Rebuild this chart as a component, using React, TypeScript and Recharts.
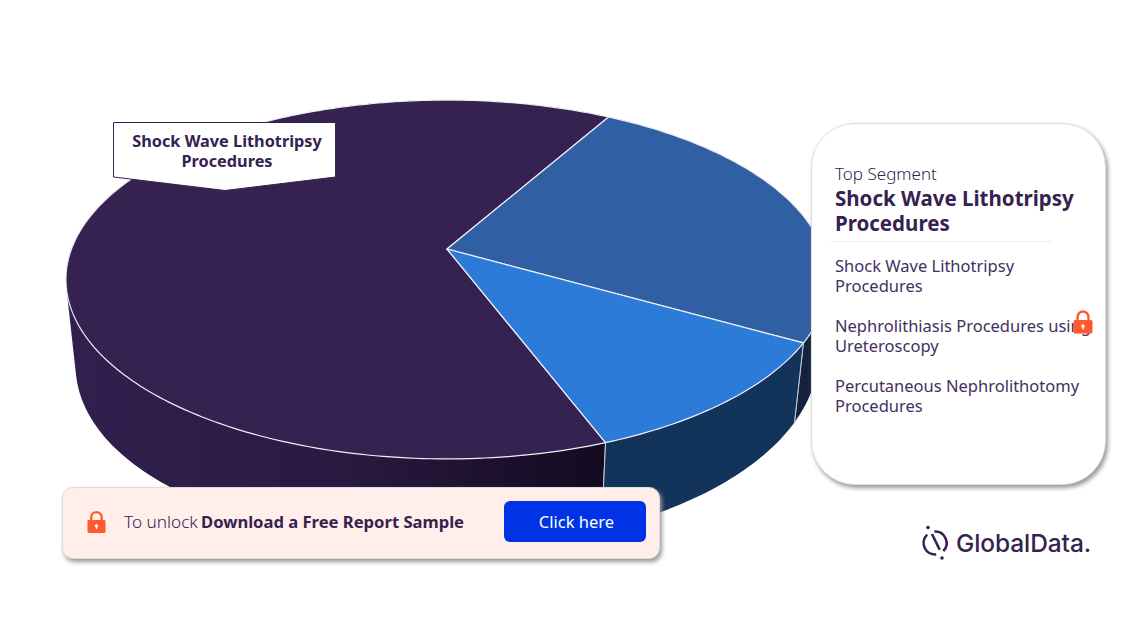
// 3D-look pie of kidney stone procedure segments, with the report card overlays
import React from 'react';
import { PieChart, Pie } from 'recharts';

const categories = [
  'Shock Wave Lithotripsy Procedures',
  'Nephrolithiasis Procedures using Ureteroscopy',
  'Percutaneous Nephrolithotomy Procedures',
];
const shares = [64, 25, 11];

const topColors = ['#352251', '#315fa3', '#2c7bd9'];
const wallColors = ['url(#shockWall)', '#13233f', '#12335a'];

const chartData = categories.map((name, i) => ({ name, value: shares[i] }));

const FONT = '"Noto Sans", sans-serif';
const INK = '#352251';
const BODY_INK = '#42315e';
const LOCK = '#ff5a2c';

// perspective of the disc, the centre of the pie sits above the centre of the ellipse
const TILT = -0.17;
const SQUASH = 0.464;
const BASE_SCALE_X = 0.975;
const BASE_SCALE_Y = 1.078;
const DEPTH = 72;
const LEFT_SAG = 8;

type Pt = { x: number; y: number };

function project(cx: number, cy: number, r: number, deg: number) {
  const a = (deg * Math.PI) / 180;
  const u = Math.cos(a);
  const v = -Math.sin(a);
  const w = 1 + TILT * v;
  return { x: cx + (r * u) / w, y: cy + (r * SQUASH * v) / w };
}

function toBase(cx: number, cy: number, p: Pt) {
  // the lower rim hangs a little further down on the left side
  const sag = p.x < cx ? LEFT_SAG * Math.pow((cx - p.x) / 350, 3) : 0;
  return { x: cx + BASE_SCALE_X * (p.x - cx), y: cy + DEPTH + BASE_SCALE_Y * (p.y - cy) + sag };
}

function rim(props: any) {
  const { cx, cy, outerRadius, startAngle, endAngle } = props;
  const steps = Math.max(2, Math.ceil(Math.abs(endAngle - startAngle)));
  const pts: Pt[] = [];
  for (let i = 0; i <= steps; i++) {
    pts.push(project(cx, cy, outerRadius, startAngle + ((endAngle - startAngle) * i) / steps));
  }
  return pts;
}

const line = (pts: Pt[]) =>
  pts.map((p, i) => `${i ? 'L' : 'M'}${p.x.toFixed(2)} ${p.y.toFixed(2)}`).join(' ');

// keep every quad wound the same way, else the folded ones cancel out in one path
function wound(pts: Pt[]) {
  let area = 0;
  pts.forEach((p, i) => {
    const q = pts[(i + 1) % pts.length];
    area += p.x * q.y - q.x * p.y;
  });
  return area < 0 ? [...pts].reverse() : pts;
}

function TopFace(props: any) {
  const { cx, cy, payload } = props;
  const idx = categories.indexOf(payload?.name ?? props.name);
  const d = `M${cx} ${cy} ${line(rim(props)).replace('M', 'L')} Z`;
  return <path d={d} fill={topColors[idx]} stroke="#eeeef3" strokeWidth={1.2} strokeLinejoin="round" />;
}

function WallFace(props: any) {
  const { cx, cy, payload } = props;
  const idx = categories.indexOf(payload?.name ?? props.name);
  const top = rim(props);
  const base = top.map((p) => toBase(cx, cy, p));
  const quads = top
    .slice(1)
    .map((p, i) => `${line(wound([top[i], p, base[i + 1], base[i]]))} Z`)
    .join(' ');
  const first = [top[0], base[0]];
  const last = [top[top.length - 1], base[base.length - 1]];
  return (
    <g>
      <defs>
        <linearGradient id="shockWall" gradientUnits="userSpaceOnUse" x1={70} y1={0} x2={606} y2={0}>
          <stop offset="0%" stopColor="#31204e" />
          <stop offset="50%" stopColor="#2a1a42" />
          <stop offset="100%" stopColor="#130a20" />
        </linearGradient>
      </defs>
      <path d={quads} fill={wallColors[idx]} stroke="none" />
      <path d={line(first)} stroke="#c9ccd6" strokeWidth={1} fill="none" />
      <path d={line(last)} stroke="#c9ccd6" strokeWidth={1} fill="none" />
    </g>
  );
}

function LockIcon({ x, y, w, h }: { x: number; y: number; w: number; h: number }) {
  return (
    <svg width={w} height={h} viewBox="0 0 20 24" style={{ position: 'absolute', left: x, top: y }}>
      <path d="M4.5 11V7a5.5 5.5 0 0 1 11 0v4" fill="none" stroke={LOCK} strokeWidth={2.4} />
      <rect x={0.5} y={10} width={19} height={13.5} rx={1.5} fill={LOCK} />
      <circle cx={10} cy={16} r={1.7} fill="#fff" />
      <rect x={9.3} y={16} width={1.4} height={3.4} fill="#fff" />
    </svg>
  );
}

function Txt({ x, y, size, weight = 400, children, color = INK, family = FONT, spacing = 0 }: any) {
  const lh = Math.round(size * 1.15 / 2) * 2;
  return (
    <div
      style={{
        position: 'absolute',
        left: x,
        top: y - lh / 2,
        height: lh,
        lineHeight: `${lh}px`,
        fontSize: size,
        fontWeight: weight,
        fontFamily: family,
        color,
        letterSpacing: spacing,
        whiteSpace: 'nowrap',
      }}
    >
      {children}
    </div>
  );
}

export default function App() {
  return (
    <div style={{ position: 'absolute', left: 0, top: 0, width: 1146, height: 644, background: '#fff', overflow: 'hidden' }}>
      <PieChart width={1146} height={644} margin={{ top: 0, right: 0, bottom: 0, left: 0 }}>
        <Pie
          data={chartData}
          dataKey="value"
          nameKey="name"
          cx={447}
          cy={249}
          innerRadius={0}
          outerRadius={375.5}
          startAngle={-69.2}
          endAngle={-429.2}
          isAnimationActive={false}
          shape={WallFace}
        />
        <Pie
          data={chartData}
          dataKey="value"
          nameKey="name"
          cx={447}
          cy={249}
          innerRadius={0}
          outerRadius={375.5}
          startAngle={-69.2}
          endAngle={-429.2}
          isAnimationActive={false}
          shape={TopFace}
        />
      </PieChart>

      {/* callout on the biggest slice */}
      <svg width={1146} height={644} style={{ position: 'absolute', left: 0, top: 0 }}>
        <polygon points="113.5,122.5 335.5,122.5 335.5,177 225,190.5 113.5,177" fill="#fff" stroke={INK} strokeWidth={1} />
      </svg>
      <div style={{ position: 'absolute', left: 114, top: 131, width: 226, textAlign: 'center', fontFamily: FONT, fontWeight: 700, fontSize: 16.3, lineHeight: '20px', color: INK }}>
        Shock Wave Lithotripsy
        <br />
        Procedures
      </div>

      {/* top segment card */}
      <div style={{ position: 'absolute', left: 811, top: 123, width: 295, height: 362, boxSizing: 'border-box', background: '#fff', border: '1px solid #ddd', borderRadius: 44, boxShadow: '2px 3px 4px #999' }} />
      <Txt x={835} y={174} size={17} weight={300}>Top Segment</Txt>
      <Txt x={835} y={198} size={20.5} weight={700}>Shock Wave Lithotripsy</Txt>
      <Txt x={835} y={223} size={20.5} weight={700}>Procedures</Txt>
      <div style={{ position: 'absolute', left: 830, top: 241, width: 222, height: 1, background: '#eee' }} />
      <Txt x={835} y={266} size={16.5} color={BODY_INK}>Shock Wave Lithotripsy</Txt>
      <Txt x={835} y={286} size={16.5} color={BODY_INK}>Procedures</Txt>
      <Txt x={835} y={326} size={16.5} color={BODY_INK}>Nephrolithiasis Procedures using</Txt>
      <Txt x={835} y={346} size={16.5} color={BODY_INK}>Ureteroscopy</Txt>
      <Txt x={835} y={386} size={16.5} color={BODY_INK}>Percutaneous Nephrolithotomy</Txt>
      <Txt x={835} y={406} size={16.5} color={BODY_INK}>Procedures</Txt>
      <LockIcon x={1073} y={310} w={20} h={24} />

      {/* unlock banner */}
      <div style={{ position: 'absolute', left: 62, top: 487, width: 598, height: 72, boxSizing: 'border-box', background: '#ffeeea', border: '1px solid #ddd', borderRadius: 11, boxShadow: '2px 3px 4px #999' }} />
      <LockIcon x={87} y={510} w={19} h={24} />
      <Txt x={124} y={522} size={17.2} weight={300}>To unlock</Txt>
      <Txt x={201} y={522} size={16.6} weight={700}>Download a Free Report Sample</Txt>
      <div style={{ position: 'absolute', left: 504, top: 501, width: 142, height: 41, background: '#0033e6', borderRadius: 6, color: '#fff', fontFamily: FONT, fontSize: 16.5, lineHeight: '41px', textAlign: 'center', textIndent: 3 }}>
        Click here
      </div>

      {/* logo */}
      <svg width={34} height={42} viewBox="0 0 34 42" style={{ position: 'absolute', left: 919, top: 522 }}>
        <path d="M15.4 9.5 A 11.5 11.5 0 0 1 24.3 29" fill="none" stroke={INK} strokeWidth={2.6} />
        <path d="M17.2 32.4 A 11.5 11.5 0 0 1 8.2 12.6" fill="none" stroke={INK} strokeWidth={2.6} />
        <path d="M13 12 L20.7 27.8" stroke={INK} strokeWidth={2.6} />
        <circle cx={9} cy={5.5} r={1.8} fill={INK} />
        <circle cx={23} cy={36} r={1.8} fill={INK} />
      </svg>
      <Txt x={956} y={543} size={24.5} weight={500} family="Inter, sans-serif" spacing={-0.1}>GlobalData.</Txt>
    </div>
  );
}
